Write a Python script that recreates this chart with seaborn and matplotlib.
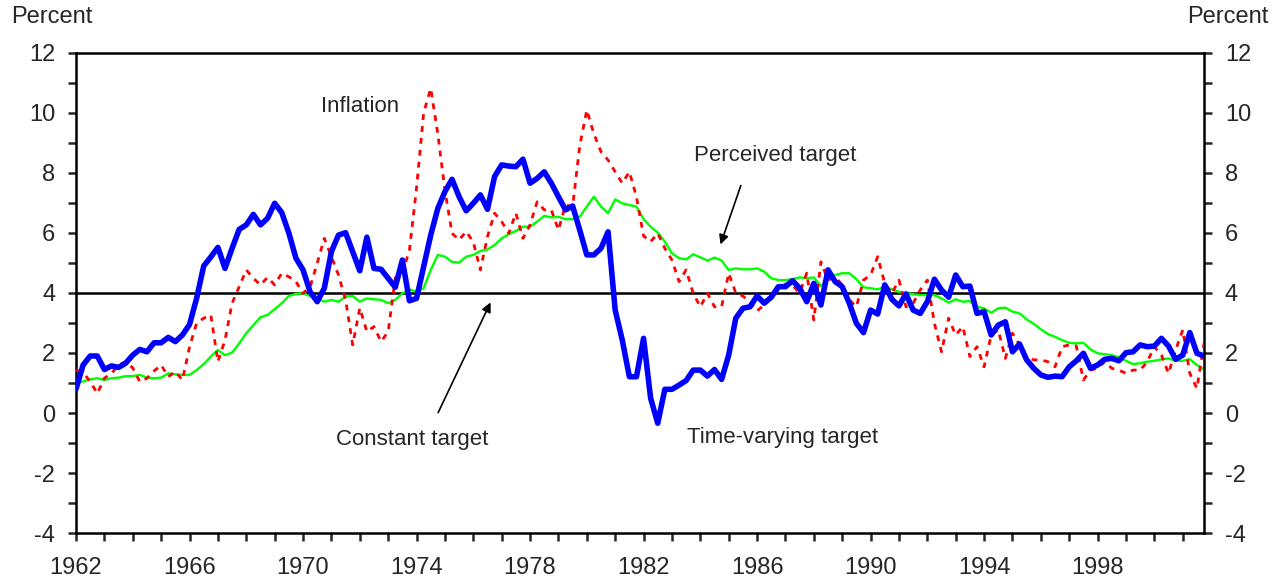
import numpy as np
import pandas as pd
import seaborn as sns
import matplotlib
matplotlib.use("Agg")
import matplotlib.pyplot as plt
from matplotlib.ticker import FixedLocator, MultipleLocator, FuncFormatter

sns.set_style("ticks")
plt.rcParams['font.family'] = ['Liberation Sans', 'DejaVu Sans']

# quarterly series, 1962Q1 onward (percent)
time_varying_target = [
    0.8, 1.6, 1.9, 1.9, 1.45, 1.57, 1.52, 1.66, 1.93, 2.12,
    2.04, 2.34, 2.34, 2.52, 2.38, 2.6, 2.95, 3.82, 4.9, 5.2,
    5.52, 4.82, 5.49, 6.12, 6.27, 6.62, 6.27, 6.49, 6.99, 6.68,
    6.0, 5.16, 4.77, 4.04, 3.71, 4.16, 5.38, 5.93, 6.01, 5.38,
    4.74, 5.86, 4.82, 4.79, 4.49, 4.19, 5.1, 3.74, 3.82, 4.88,
    5.93, 6.82, 7.38, 7.79, 7.21, 6.74, 6.99, 7.27, 6.79, 7.88,
    8.27, 8.23, 8.21, 8.46, 7.66, 7.82, 8.04, 7.66, 7.21, 6.77,
    6.9, 6.1, 5.27, 5.27, 5.49, 6.04, 3.43, 2.43, 1.21, 1.21,
    2.49, 0.49, -0.34, 0.79, 0.79, 0.93, 1.08, 1.43, 1.43, 1.23,
    1.45, 1.12, 1.93, 3.16, 3.49, 3.54, 3.9, 3.66, 3.86, 4.21,
    4.21, 4.41, 4.16, 3.71, 4.32, 3.6, 4.77, 4.38, 4.21, 3.66,
    2.99, 2.68, 3.43, 3.3, 4.27, 3.79, 3.57, 3.97, 3.43, 3.32,
    3.71, 4.46, 4.1, 3.86, 4.6, 4.21, 4.23, 3.32, 3.38, 2.6,
    2.93, 3.04, 2.04, 2.3, 1.77, 1.49, 1.27, 1.19, 1.23, 1.21,
    1.54, 1.74, 1.99, 1.49, 1.6, 1.79, 1.82, 1.74, 2.01, 2.04,
    2.27, 2.21, 2.23, 2.49, 2.23, 1.79, 1.93, 2.68, 1.99, 1.9,
]

perceived_target = [
    1.0, 1.05, 1.12, 1.16, 1.1, 1.16, 1.18, 1.23, 1.23, 1.27,
    1.18, 1.16, 1.18, 1.32, 1.29, 1.27, 1.27, 1.43, 1.63, 1.88,
    2.1, 1.93, 2.01, 2.32, 2.66, 2.93, 3.19, 3.27, 3.46, 3.66,
    3.9, 3.97, 3.99, 3.9, 3.82, 3.71, 3.77, 3.71, 3.88, 3.9,
    3.71, 3.82, 3.79, 3.77, 3.66, 3.77, 3.99, 4.12, 4.04, 4.16,
    4.77, 5.27, 5.21, 5.04, 5.01, 5.21, 5.27, 5.4, 5.45, 5.6,
    5.82, 5.96, 6.07, 6.21, 6.21, 6.38, 6.57, 6.52, 6.54, 6.46,
    6.46, 6.54, 6.88, 7.21, 6.88, 6.66, 7.12, 6.99, 6.93, 6.88,
    6.46, 6.21, 6.01, 5.71, 5.32, 5.16, 5.12, 5.29, 5.19, 5.08,
    5.18, 5.08, 4.77, 4.82, 4.79, 4.79, 4.82, 4.71, 4.49, 4.43,
    4.43, 4.46, 4.52, 4.49, 4.52, 4.23, 4.46, 4.6, 4.66, 4.66,
    4.46, 4.19, 4.16, 4.12, 4.21, 4.12, 4.04, 3.99, 3.96, 3.93,
    3.93, 3.93, 3.82, 3.68, 3.79, 3.71, 3.73, 3.54, 3.49, 3.34,
    3.49, 3.51, 3.38, 3.32, 3.12, 2.97, 2.79, 2.63, 2.54, 2.43,
    2.34, 2.32, 2.34, 2.12, 1.99, 1.96, 1.93, 1.86, 1.74, 1.63,
    1.66, 1.71, 1.74, 1.79, 1.82, 1.74, 1.74, 1.79, 1.6, 1.45,
]

inflation = [
    1.43, 1.35, 1.05, 0.65, 1.16, 1.32, 1.6, 1.71, 1.5, 1.04,
    1.16, 1.4, 1.6, 1.21, 1.38, 1.1, 2.2, 3.0, 3.16, 3.27,
    1.71, 2.43, 3.66, 4.21, 4.77, 4.49, 4.27, 4.52, 4.27, 4.66,
    4.54, 4.38, 3.99, 4.2, 5.0, 5.82, 5.21, 4.6, 3.77, 2.27,
    3.5, 2.71, 2.88, 2.38, 2.71, 4.5, 4.66, 5.43, 7.5, 10.0,
    10.82, 9.3, 7.43, 5.99, 5.77, 6.05, 5.7, 4.77, 5.88, 6.66,
    6.38, 5.99, 6.66, 5.82, 6.27, 7.04, 6.77, 6.77, 6.1, 6.93,
    6.88, 8.9, 10.1, 9.3, 8.71, 8.43, 8.04, 7.66, 8.04, 7.2,
    5.9, 5.71, 5.99, 5.49, 5.1, 4.38, 4.77, 3.99, 3.54, 3.99,
    3.54, 3.54, 4.66, 4.0, 3.9, 3.7, 3.4, 3.6, 3.85, 4.1,
    4.3, 4.25, 4.0, 4.66, 3.1, 5.04, 4.43, 4.54, 4.27, 3.77,
    3.54, 4.43, 4.6, 5.21, 4.32, 3.99, 4.43, 3.54, 3.66, 4.1,
    4.43, 2.99, 2.04, 3.16, 2.6, 2.88, 1.88, 2.21, 1.54, 2.6,
    2.77, 1.82, 2.66, 2.27, 1.88, 1.77, 1.77, 1.71, 1.54, 2.21,
    2.27, 2.23, 1.1, 1.43, 1.49, 1.71, 1.49, 1.43, 1.32, 1.43,
    1.43, 1.71, 2.21, 1.93, 1.32, 2.1, 2.77, 1.32, 0.82, 2.32,
]

constant_target = 4
start_year = 1962
year_labels = [1962, 1966, 1970, 1974, 1978, 1982, 1986, 1990, 1994, 1998]

df = pd.DataFrame({
    'year': start_year + np.arange(len(inflation)) / 4,
    'inflation': inflation,
    'perceived': perceived_target,
    'time_varying': time_varying_target,
})

fig = plt.figure(figsize=(12.84, 5.84), dpi=100)
ax = fig.add_axes([0.0592, 0.0873, 0.8785, 0.822])

ax.axhline(constant_target, color='black', lw=1.8, zorder=1)
sns.lineplot(data=df, x='year', y='perceived', ax=ax, color='#00ff00', lw=1.7, zorder=2)
sns.lineplot(data=df, x='year', y='inflation', ax=ax, color='#ff0000', lw=2.0,
             linestyle=(0, (2.1, 2.2)), zorder=3)
sns.lineplot(data=df, x='year', y='time_varying', ax=ax, color='#0000ff', lw=4.0, zorder=4)

ax.set_xlim(1962, 2001.75)
ax.set_ylim(-4, 12)
ax.set_xlabel('')
ax.set_ylabel('')

ax.xaxis.set_major_locator(FixedLocator(year_labels))
ax.xaxis.set_minor_locator(FixedLocator(list(range(1962, 2002))))
ax.yaxis.set_major_locator(MultipleLocator(2))
ax.yaxis.set_minor_locator(MultipleLocator(1))
ax.tick_params(axis='both', which='both', direction='out', width=1.8, labelsize=17)
ax.tick_params(axis='x', which='both', length=6, pad=11)
ax.tick_params(axis='y', which='both', length=6, pad=9, left=True, right=True,
               labelleft=True, labelright=True)
ax.xaxis.set_major_formatter(FuncFormatter(lambda v, p: f"{int(v)}"))
ax.yaxis.set_major_formatter(FuncFormatter(lambda v, p: f"{int(v)}"))

for s in ax.spines.values():
    s.set_visible(True)
    s.set_linewidth(1.8)
    s.set_color('black')
ax.grid(False)

fig.text(0.0405, 0.971, 'Percent', fontsize=17, ha='center', va='center')
fig.text(0.9565, 0.971, 'Percent', fontsize=17, ha='center', va='center')

ax.text(1972.0, 10.23, 'Inflation', fontsize=16, ha='center', va='center')
ax.text(1986.65, 8.57, 'Perceived target', fontsize=16, ha='center', va='center')
ax.text(1973.83, -0.87, 'Constant target', fontsize=16, ha='center', va='center')
ax.text(1986.9, -0.83, 'Time-varying target', fontsize=16, ha='center', va='center')

arrow = dict(arrowstyle='-|>', color='black', lw=1.2, mutation_scale=14)
ax.annotate('', xy=(1984.68, 5.53), xytext=(1985.46, 7.67), arrowprops=arrow)
ax.annotate('', xy=(1976.65, 3.77), xytext=(1974.72, -0.07), arrowprops=arrow)

plt.savefig('out.png', dpi=100)
